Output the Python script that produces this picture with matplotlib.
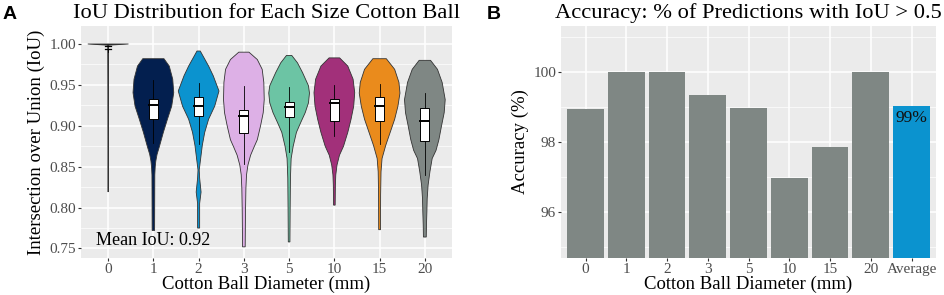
import matplotlib
matplotlib.use("Agg")
import matplotlib.pyplot as plt
from matplotlib.ticker import MultipleLocator

plt.rcParams['font.family'] = ['Liberation Serif', 'DejaVu Serif']

# --- panel A data ---
sizes = ['0', '1', '2', '3', '5', '10', '15', '20']
violin_colors = ['#1a1a1a', '#031f4f', '#0b93cf', '#ddb0e6', '#6cc4a4', '#a2307a', '#ea8b1c', '#7f8784']

# box stats
whisk_lo = [0.990, 0.879, 0.878, 0.853, 0.868, 0.8875, 0.878, 0.840]
q1 = [0.9935, 0.908, 0.912, 0.8915, 0.911, 0.906, 0.906, 0.8814]
med = [0.998, 0.926, 0.924, 0.912, 0.9226, 0.9275, 0.924, 0.906]
q3 = [1.000, 0.933, 0.935, 0.919, 0.9295, 0.933, 0.935, 0.9214]
whisk_hi = [1.000, 0.956, 0.952, 0.9487, 0.948, 0.950, 0.951, 0.9405]

# violin outlines: (IoU, relative half width), top to bottom
prof_0 = [(1.0, 1.0), (0.9985, 0.02), (0.819, 0.0)]
prof_1 = [(0.982, 0.52), (0.973, 0.78), (0.957, 0.95), (0.9405, 1.0), (0.924, 0.90),
          (0.908, 0.69), (0.892, 0.49), (0.875, 0.30), (0.865, 0.18), (0.857, 0.12),
          (0.85, 0.09), (0.84, 0.07), (0.772, 0.06)]
prof_2 = [(0.9914, 0.08), (0.973, 0.49), (0.961, 0.72), (0.9425, 1.0), (0.924, 0.79),
          (0.908, 0.49), (0.892, 0.30), (0.876, 0.18), (0.86, 0.10), (0.846, 0.03),
          (0.836, 0.05), (0.819, 0.12), (0.805, 0.05), (0.775, 0.05)]
prof_3 = [(0.990, 0.25), (0.981, 0.66), (0.969, 0.90), (0.953, 0.98), (0.932, 1.0),
          (0.916, 0.95), (0.90, 0.82), (0.883, 0.66), (0.874, 0.50), (0.864, 0.33),
          (0.852, 0.20), (0.84, 0.13), (0.8235, 0.10), (0.795, 0.08), (0.752, 0.065)]
prof_5 = [(0.986, 0.13), (0.977, 0.41), (0.965, 0.66), (0.949, 0.95), (0.94, 1.0),
          (0.928, 0.95), (0.916, 0.79), (0.904, 0.57), (0.892, 0.36), (0.875, 0.20),
          (0.86, 0.10), (0.836, 0.065), (0.795, 0.05), (0.758, 0.04)]
prof_10 = [(0.983, 0.26), (0.973, 0.66), (0.957, 0.92), (0.9405, 1.0), (0.924, 0.95),
           (0.908, 0.82), (0.892, 0.66), (0.875, 0.45), (0.864, 0.25), (0.852, 0.13),
           (0.84, 0.07), (0.8275, 0.05), (0.803, 0.04)]
prof_15 = [(0.982, 0.33), (0.969, 0.74), (0.953, 0.95), (0.94, 1.0), (0.924, 0.90),
           (0.908, 0.74), (0.892, 0.52), (0.876, 0.30), (0.86, 0.12), (0.844, 0.07),
           (0.8155, 0.05), (0.773, 0.045)]
prof_20 = [(0.980, 0.28), (0.969, 0.62), (0.953, 0.85), (0.932, 1.0), (0.916, 0.95),
           (0.90, 0.82), (0.883, 0.69), (0.87, 0.55), (0.86, 0.36), (0.844, 0.25),
           (0.8275, 0.16), (0.811, 0.115), (0.795, 0.10), (0.779, 0.08), (0.764, 0.07)]
profiles = [prof_0, prof_1, prof_2, prof_3, prof_5, prof_10, prof_15, prof_20]
mean_iou = 0.92

# --- panel B data ---
acc_labels = ['0', '1', '2', '3', '5', '10', '15', '20', 'Average']
accuracy = [98.93, 100.0, 100.0, 99.33, 98.97, 96.99, 97.87, 100.0, 99.03]
bar_colors = ['#7f8784'] * 8 + ['#0b93cf']


def gg_style(ax):
    ax.set_facecolor('#ebebeb')
    for s in ax.spines.values():
        s.set_visible(False)
    ax.grid(True, which='major', color='white', lw=1.1)
    ax.grid(True, which='minor', axis='y', color='white', lw=0.5)
    ax.set_axisbelow(True)
    ax.tick_params(which='major', length=2.5, color='#333333', labelcolor='#4d4d4d',
                   labelsize=11, pad=1)
    ax.tick_params(which='minor', length=0)


fig = plt.figure(figsize=(9.45, 2.95), dpi=100)
axA = fig.add_axes([0.0857, 0.1244, 0.3926, 0.7875])
axB = fig.add_axes([0.5937, 0.1254, 0.3968, 0.7865])

# panel A: violins + boxes
gg_style(axA)
half = 0.45
bw = 0.10
for i, prof in enumerate(profiles):
    x = i + 1
    ys = [p[0] for p in prof]
    ws = [p[1] * half for p in prof]
    xs = [x - w for w in ws] + [x + w for w in ws[::-1]]
    yy = ys + ys[::-1]
    axA.fill(xs, yy, facecolor=violin_colors[i], edgecolor='#333333', lw=0.6, zorder=2)
    axA.plot([x, x], [whisk_lo[i], q1[i]], color='black', lw=0.6, zorder=3)
    axA.plot([x, x], [q3[i], whisk_hi[i]], color='black', lw=0.6, zorder=3)
    if i == 0:
        # the 0 mm box collapses to a few short strokes
        for yv in (q1[i], med[i]):
            axA.plot([x - bw * 0.7, x + bw * 0.7], [yv, yv], color='black', lw=0.9, zorder=4)
        continue
    axA.fill([x - bw, x + bw, x + bw, x - bw], [q1[i], q1[i], q3[i], q3[i]],
             facecolor='white', edgecolor='black', lw=0.7, zorder=4)
    axA.plot([x - bw, x + bw], [med[i], med[i]], color='black', lw=1.4, zorder=5)

axA.set_xlim(0.4, 8.6)
axA.set_ylim(0.738, 1.022)
axA.set_xticks(range(1, 9))
axA.set_xticklabels(sizes)
axA.yaxis.set_major_locator(MultipleLocator(0.05))
axA.yaxis.set_minor_locator(MultipleLocator(0.025))
axA.yaxis.set_major_formatter(matplotlib.ticker.FormatStrFormatter('%.2f'))
axA.text(2, 0.7595, f'Mean IoU: {mean_iou:.2f}', fontsize=13, ha='center', va='center')
axA.set_title('IoU Distribution for Each Size Cotton Ball', fontsize=16.2, pad=6)
axA.set_xlabel('Cotton Ball Diameter (mm)', fontsize=13.5, labelpad=0)
axA.set_ylabel('Intersection over Union (IoU)', fontsize=13.5, labelpad=3)

# panel B: bars
gg_style(axB)
pos = list(range(1, len(accuracy) + 1))
axB.bar(pos, accuracy, width=0.9, color=bar_colors, zorder=2)
axB.set_xlim(0.4, 9.6)
axB.set_ylim(94.7, 101.3)
axB.set_xticks(pos)
axB.set_xticklabels(acc_labels)
axB.yaxis.set_major_locator(MultipleLocator(2))
axB.yaxis.set_minor_locator(MultipleLocator(1))
axB.text(pos[-1], accuracy[-1] - 0.34, f'{round(accuracy[-1])}%', fontsize=12.5,
         ha='center', va='center', color='#111111', zorder=3)
axB.set_title('Accuracy: % of Predictions with IoU > 0.5', fontsize=16.2, pad=6)
axB.set_xlabel('Cotton Ball Diameter (mm)', fontsize=13.5, labelpad=0)
axB.set_ylabel('Accuracy (%)', fontsize=13.5, labelpad=3)

fig.text(0.003, 0.978, 'A', fontsize=14, fontweight='bold', family='Liberation Sans', va='top')
fig.text(0.515, 0.978, 'B', fontsize=14, fontweight='bold', family='Liberation Sans', va='top')

fig.savefig('out.png', dpi=100)
